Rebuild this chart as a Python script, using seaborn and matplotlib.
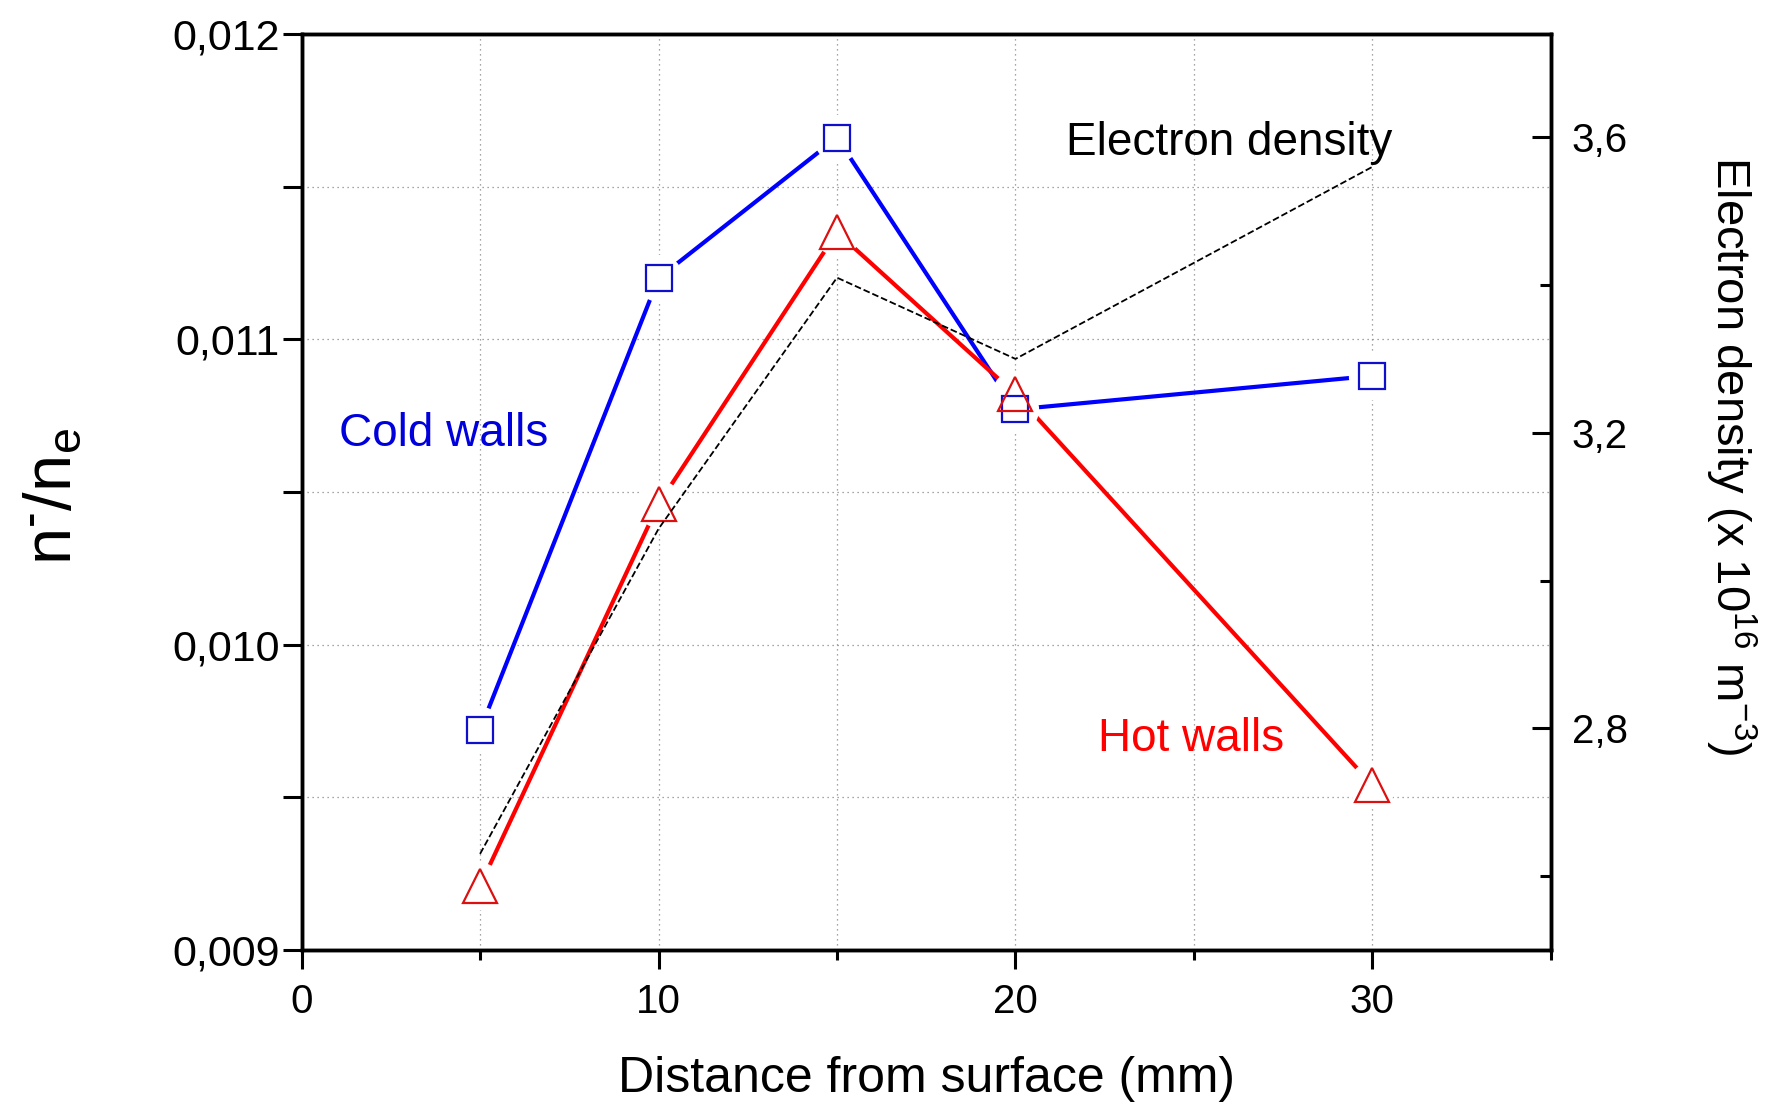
import pandas as pd
import seaborn as sns
import matplotlib.pyplot as plt
from matplotlib.ticker import MultipleLocator, FixedLocator

# valores
distancia = [5, 10, 15, 20, 30]
cold_walls = [0.00972, 0.01120, 0.01166, 0.01077, 0.01088]
hot_walls = [0.00921, 0.01046, 0.01135, 0.01082, 0.00954]
electron_density = [2.63, 3.07, 3.41, 3.30, 3.56]

x_ticks = [0, 10, 20, 30]
y_ticks = [0.009, 0.010, 0.011, 0.012]
y_tick_labels = ['0,009', '0,010', '0,011', '0,012']
y2_ticks = [2.8, 3.2, 3.6]
y2_tick_labels = ['2,8', '3,2', '3,6']

df = pd.DataFrame({'Distancia': distancia, 'Cold': cold_walls,
                   'Hot': hot_walls, 'Ne': electron_density})

sns.set_style("ticks")
plt.rcParams['font.family'] = ['Liberation Sans', 'DejaVu Sans']
plt.rcParams['mathtext.fontset'] = 'custom'
plt.rcParams['mathtext.rm'] = 'Liberation Sans'
plt.rcParams['mathtext.it'] = 'Liberation Sans'
for chave in ['text.color', 'axes.labelcolor', 'xtick.color', 'ytick.color', 'axes.edgecolor']:
    plt.rcParams[chave] = 'black'

fig = plt.figure(figsize=(17.71, 11.03), dpi=100)
ax = fig.add_axes([0.1703, 0.1388, 0.7054, 0.8305])

azul = '#0000FF'
vermelho = '#FF0000'

# linhas
sns.lineplot(data=df, x='Distancia', y='Cold', color=azul, linewidth=3.0, ax=ax, zorder=3)
sns.lineplot(data=df, x='Distancia', y='Hot', color=vermelho, linewidth=3.0, ax=ax, zorder=3)

# "buracos" brancos em volta dos marcadores, estilo Origin
for serie in ['Cold', 'Hot']:
    ax.plot(df['Distancia'], df[serie], linestyle='none', marker='o', markersize=34,
            markerfacecolor='white', markeredgecolor='none', zorder=4)

ax.plot(df['Distancia'], df['Cold'], linestyle='none', marker='s', markersize=18.5,
        markerfacecolor='none', markeredgecolor='#1010CC', markeredgewidth=1.6, zorder=5)
ax.plot(df['Distancia'], df['Hot'], linestyle='none', marker='^', markersize=25,
        markerfacecolor='none', markeredgecolor='#DD1010', markeredgewidth=1.6, zorder=5)

ax.set_xlim(0, 35)
ax.set_ylim(0.009, 0.012)
ax.xaxis.set_major_locator(FixedLocator(x_ticks))
ax.xaxis.set_minor_locator(MultipleLocator(5))
ax.set_yticks(y_ticks)
ax.set_yticklabels(y_tick_labels)
ax.yaxis.set_minor_locator(MultipleLocator(0.0005))

ax.tick_params(axis='x', which='major', direction='out', length=13.5, width=2.2,
               labelsize=29, pad=10)
ax.tick_params(axis='x', which='minor', direction='out', length=7, width=2.2)
ax.tick_params(axis='y', which='both', direction='out', length=14, width=2.2,
               labelsize=31, pad=2, right=False)

ax.grid(True, which='both', color='#888888', linestyle=(0, (1, 3)), linewidth=0.9)
for lado in ['left', 'right', 'top', 'bottom']:
    ax.spines[lado].set_linewidth(2.5)

ax.set_xlabel('Distance from surface (mm)', fontsize=36)
ax.xaxis.set_label_coords(0.5, -0.116)
ax.set_ylabel(r'$\mathregular{n^{\text{-}}/n_{e}}$', fontsize=48)
ax.yaxis.set_label_coords(-0.174, 0.495)

# eixo da direita: densidade eletrônica
ax2 = ax.twinx()
sns.lineplot(data=df, x='Distancia', y='Ne', color='black', linewidth=1.3,
             linestyle='--', dashes=(5, 4), ax=ax2)
ax2.set_ylim(2.5, 3.74)
ax2.set_yticks(y2_ticks)
ax2.set_yticklabels(y2_tick_labels)
ax2.yaxis.set_minor_locator(FixedLocator([2.6, 3.0, 3.4]))
ax2.tick_params(axis='y', which='major', direction='in', length=13.5, width=2.2,
                labelsize=29, pad=15)
ax2.tick_params(axis='y', which='minor', direction='in', length=8, width=2.2)
ax2.set_ylabel(r'Electron density (x 10$^{16}$ m$^{-3}$)', fontsize=34, rotation=270)
ax2.yaxis.label.set_verticalalignment('bottom')
ax2.yaxis.set_label_coords(1.1215, 0.539)
for lado in ['left', 'right', 'top', 'bottom']:
    ax2.spines[lado].set_linewidth(2.5)

ax.text(21.42, 0.011603, 'Electron density', fontsize=33, color='black', va='baseline')
ax.text(1.05, 0.01065, 'Cold walls', fontsize=33, color='#0000DD', va='baseline')
ax.text(22.31, 0.009651, 'Hot walls', fontsize=33, color=vermelho, va='baseline')

plt.savefig('out.png', dpi=100)
